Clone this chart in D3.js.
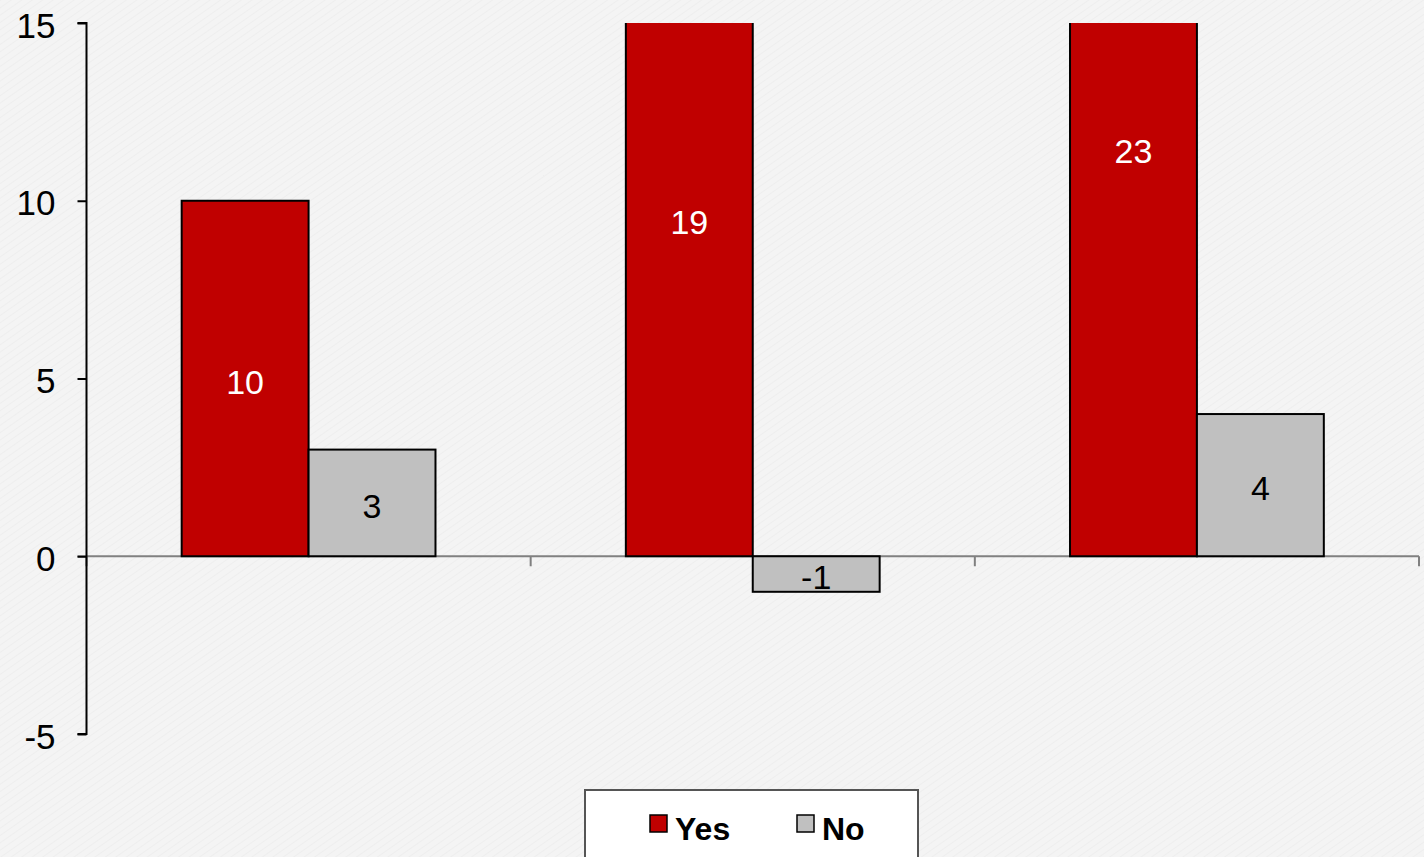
<!DOCTYPE html>
<html>
<head>
<meta charset="utf-8">
<script src="https://cdn.jsdelivr.net/npm/d3@7/dist/d3.min.js"></script>
<style>
  html, body { margin: 0; padding: 0; background: #f4f4f4; overflow: hidden; }
  svg { display: block; font-family: "Liberation Sans", Arial, sans-serif; }
</style>
</head>
<body>
<script>
// Chart data
const categories = ["A", "B", "C"];
const seriesNames = ["Yes", "No"];
const yesValues = [10, 19, 23];
const noValues = [3, -1, 4];
const yTicks = [-5, 0, 5, 10, 15];

const W = 1424, H = 857;
const plot = { left: 86.5, right: 1419, top: 23, bottom: 734 };
const colors = { Yes: "#c00000", No: "#c0c0c0" };

const svg = d3.select("body").append("svg").attr("width", W).attr("height", H);

// Faint diagonal paper texture
const defs = svg.append("defs");
const pat = defs.append("pattern").attr("id", "tex")
  .attr("width", 6).attr("height", 6)
  .attr("patternUnits", "userSpaceOnUse")
  .attr("patternTransform", "rotate(-35)");
pat.append("rect").attr("width", 6).attr("height", 6).attr("fill", "#f4f4f4");
pat.append("line").attr("x1", 0).attr("y1", 0).attr("x2", 6).attr("y2", 0)
  .attr("stroke", "#ececec").attr("stroke-width", 1.5);
svg.append("rect").attr("width", W).attr("height", H).attr("fill", "url(#tex)");

defs.append("clipPath").attr("id", "plotClip").append("rect")
  .attr("x", plot.left).attr("y", plot.top)
  .attr("width", plot.right - plot.left).attr("height", plot.bottom - plot.top);

const y = d3.scaleLinear().domain([-5, 15]).range([plot.bottom, plot.top]);
const x0 = d3.scaleBand().domain(categories).range([plot.left, plot.right]).paddingInner(0).paddingOuter(0);
const x1 = d3.scaleBand().domain(seriesNames).range([0, x0.bandwidth()]).paddingOuter(0.75).paddingInner(0);

const rows = categories.map((c, i) => ({ cat: c, Yes: yesValues[i], No: noValues[i] }));

// Zero line (category axis) with downward ticks at group boundaries
const x0Line = y(0);
svg.append("line").attr("x1", plot.left - 9).attr("x2", plot.right)
  .attr("y1", x0Line).attr("y2", x0Line)
  .attr("stroke", "#808080").attr("stroke-width", 2);
const bounds = categories.map(c => x0(c)).concat([plot.right]);
svg.selectAll(".xtick").data(bounds).enter().append("line")
  .attr("x1", d => d).attr("x2", d => d)
  .attr("y1", x0Line).attr("y2", x0Line + 10)
  .attr("stroke", "#808080").attr("stroke-width", 2);

// Bars
const bars = svg.append("g").attr("clip-path", "url(#plotClip)");
const groups = bars.selectAll("g.grp").data(rows).enter().append("g")
  .attr("transform", d => `translate(${x0(d.cat)},0)`);
groups.selectAll("rect").data(d => seriesNames.map(k => ({ key: k, value: d[k] })))
  .enter().append("rect")
  .attr("x", d => x1(d.key))
  .attr("width", x1.bandwidth())
  .attr("y", d => y(Math.max(0, d.value)))
  .attr("height", d => Math.abs(y(d.value) - y(0)))
  .attr("fill", d => colors[d.key])
  .attr("stroke", "#000").attr("stroke-width", 2);

// Value labels centred on each bar's full extent
const labels = svg.append("g");
rows.forEach(r => {
  seriesNames.forEach(k => {
    labels.append("text")
      .attr("x", x0(r.cat) + x1(k) + x1.bandwidth() / 2)
      .attr("y", y(r[k] / 2) + 3)
      .attr("dy", "0.36em")
      .attr("text-anchor", "middle")
      .attr("font-size", 34)
      .attr("fill", k === "Yes" ? "#ffffff" : "#000000")
      .text(r[k]);
  });
});

// Value axis
const yAxis = svg.append("g").attr("transform", `translate(${plot.left},0)`)
  .call(d3.axisLeft(y).tickValues(yTicks).tickSize(9).tickPadding(22).tickFormat(d => String(d)));
yAxis.select(".domain").attr("stroke", "#000").attr("stroke-width", 2)
  .attr("d", `M-9,${plot.top}H0V${plot.bottom}H-9`);
yAxis.selectAll(".tick line").attr("stroke", "#000").attr("stroke-width", 2);
yAxis.selectAll(".tick text").attr("font-size", 35).attr("fill", "#000")
  .attr("dy", "0.4em")
  .attr("font-family", "'Liberation Sans', Arial, sans-serif");

// Legend
const lg = svg.append("g");
lg.append("rect").attr("x", 585).attr("y", 790).attr("width", 333).attr("height", 90)
  .attr("fill", "#ffffff").attr("stroke", "#555").attr("stroke-width", 2);
const legendItems = [{ key: "Yes", x: 650 }, { key: "No", x: 797 }];
legendItems.forEach(it => {
  lg.append("rect").attr("x", it.x).attr("y", 815).attr("width", 17).attr("height", 17)
    .attr("fill", colors[it.key]).attr("stroke", "#000").attr("stroke-width", 1.5);
  lg.append("text").attr("x", it.x + 25).attr("y", 840)
    .attr("font-size", 32).attr("font-weight", "bold").attr("fill", "#000")
    .text(it.key);
});
</script>
</body>
</html>
